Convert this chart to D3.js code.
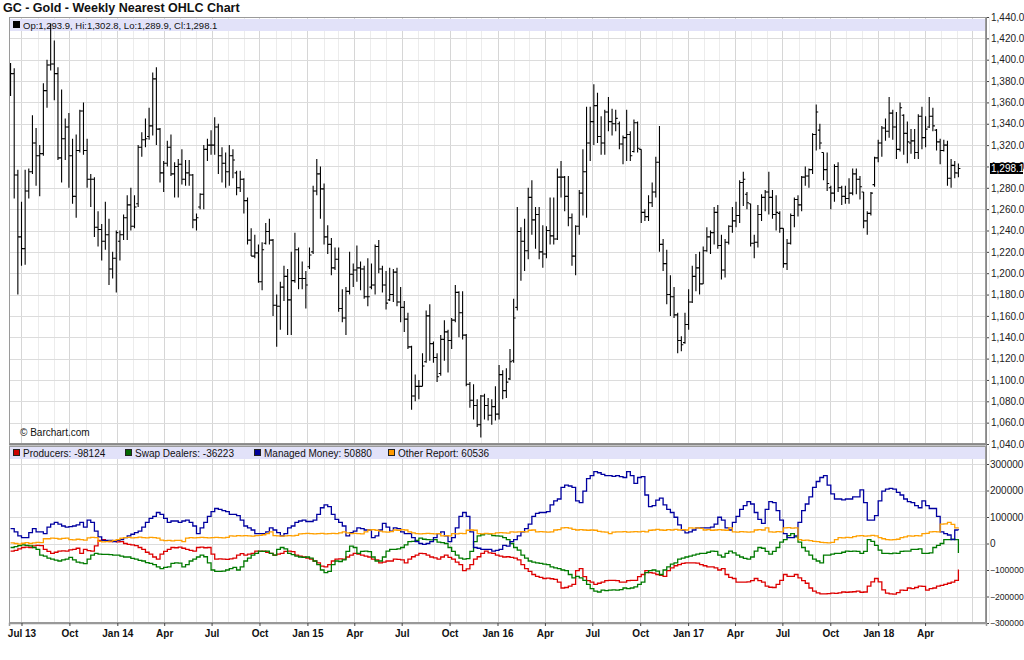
<!DOCTYPE html>
<html><head><meta charset="utf-8">
<script src="https://cdn.jsdelivr.net/npm/d3@7"></script>
<style>
body{margin:0;background:#fff;}
svg text{font-family:"Liberation Sans",Arial,sans-serif;}
</style>
</head><body>
<svg id="c" width="1024" height="660"></svg>
<script>
// ---------- DATA ----------
const chartTitle = "GC - Gold - Weekly Nearest OHLC Chart";
const firstWeek = Date.UTC(2013,5,10), lastWeekEnd = Date.UTC(2018,5,5);
const xTickLabels = ["Jul 13","Oct","Jan 14","Apr","Jul","Oct","Jan 15","Apr","Jul","Oct","Jan 16","Apr","Jul","Oct","Jan 17","Apr","Jul","Oct","Jan 18","Apr"];
const priceTicks = [1040,1060,1080,1100,1120,1140,1160,1180,1200,1220,1240,1260,1280,1300,1320,1340,1360,1380,1400,1420,1440];
const cotTicks = [-300000,-200000,-100000,0,100000,200000,300000];

const opens = [1383,1387,1292,1234,1223,1277,1295,1322,1310,1312,1371,1395,1396,1387,1308,1326,1337,1310,1272,1315,1352,1315,1288,1288,1243,1241,1230,1236,1204,1214,
1230,1236,1252,1264,1244,1265,1318,1325,1328,1338,1382,1335,1294,1303,1318,1293,1300,1302,1288,1294,1292,1250,1262,1274,1316,1320,1320,1337,1310,1303,
1295,1310,1294,1280,1288,1268,1231,1216,1219,1192,1228,1239,1231,1170,1169,1187,1197,1175,1193,1222,1195,1195,1206,1220,1277,1293,1279,1234,1227,1205,
1213,1167,1158,1183,1199,1203,1205,1204,1178,1187,1189,1225,1204,1189,1175,1180,1201,1173,1168,1157,1131,1085,1094,1094,1117,1160,1134,1121,1106,1138,
1145,1137,1156,1182,1163,1142,1096,1081,1076,1058,1085,1076,1067,1075,1068,1105,1090,1101,1118,1168,1239,1230,1221,1271,1250,1255,1220,1218,1240,1235,
1232,1290,1290,1272,1252,1216,1244,1275,1295,1322,1342,1357,1328,1322,1351,1342,1340,1340,1321,1327,1330,1314,1341,1316,1257,1253,1266,1276,1304,1227,
1209,1180,1178,1161,1137,1135,1152,1173,1197,1205,1190,1221,1234,1238,1257,1226,1203,1229,1244,1249,1254,1285,1274,1265,1228,1229,1255,1271,1276,1271,
1255,1256,1242,1209,1228,1254,1269,1264,1290,1291,1297,1330,1334,1313,1297,1280,1275,1300,1280,1272,1270,1275,1293,1288,1276,1249,1256,1283,1308,1322,
1336,1333,1350,1337,1316,1348,1331,1322,1324,1313,1347,1327,1337,1347,1334,1323,1315,1320,1289,1301,1293.9];
const highs = [1397,1392,1297,1267,1297,1298,1348,1336,1320,1378,1400,1434,1418,1393,1372,1345,1350,1326,1330,1353,1360,1326,1293,1290,1258,1246,1267,1251,1220,1240,
1240,1255,1273,1280,1273,1320,1332,1345,1355,1388,1393,1336,1305,1324,1330,1304,1307,1316,1306,1306,1293,1256,1275,1320,1326,1334,1346,1340,1318,1313,
1320,1316,1296,1296,1289,1271,1242,1236,1227,1229,1247,1251,1232,1180,1192,1207,1204,1220,1238,1224,1211,1202,1224,1282,1307,1300,1284,1245,1233,1224,
1224,1185,1187,1220,1209,1226,1211,1207,1214,1209,1227,1231,1207,1202,1205,1204,1205,1187,1174,1163,1132,1105,1100,1125,1165,1171,1136,1125,1142,1156,
1147,1158,1189,1183,1183,1143,1098,1096,1082,1086,1087,1083,1082,1094,1114,1109,1111,1129,1176,1262,1243,1251,1280,1287,1262,1262,1245,1244,1271,1271,
1298,1305,1291,1291,1256,1245,1278,1316,1356,1356,1377,1369,1347,1353,1365,1354,1353,1342,1329,1353,1333,1344,1342,1316,1260,1273,1285,1309,1338,1232,
1222,1198,1187,1163,1141,1163,1185,1207,1218,1220,1225,1243,1240,1262,1264,1236,1232,1245,1262,1267,1287,1295,1276,1265,1236,1264,1274,1278,1295,1278,
1273,1258,1242,1232,1256,1271,1273,1291,1300,1298,1331,1358,1340,1313,1313,1282,1302,1304,1282,1282,1289,1298,1298,1291,1276,1258,1276,1309,1325,1338,
1345,1365,1353,1351,1360,1349,1342,1335,1335,1349,1356,1347,1365,1355,1335,1326,1325,1324,1307,1305,1302.8];
const lows = [1366,1270,1180,1207,1208,1270,1293,1282,1272,1310,1355,1390,1362,1306,1285,1306,1280,1265,1252,1313,1311,1280,1262,1234,1225,1212,1222,1189,1195,1182,
1212,1231,1231,1240,1242,1262,1309,1318,1325,1329,1320,1285,1276,1300,1291,1271,1271,1283,1282,1282,1242,1240,1260,1260,1305,1311,1311,1293,1285,1280,
1282,1289,1273,1276,1256,1227,1216,1214,1191,1184,1227,1227,1160,1131,1147,1174,1142,1142,1191,1185,1185,1167,1204,1218,1273,1251,1227,1218,1198,1203,
1164,1154,1142,1180,1187,1192,1184,1176,1169,1185,1180,1200,1182,1166,1174,1173,1169,1154,1145,1129,1072,1080,1082,1094,1116,1118,1116,1098,1104,1118,
1107,1129,1154,1140,1138,1094,1074,1063,1056,1046,1063,1062,1058,1062,1063,1082,1083,1100,1116,1165,1193,1202,1213,1236,1223,1213,1205,1214,1227,1227,
1231,1271,1258,1244,1207,1198,1236,1254,1252,1305,1320,1322,1311,1311,1333,1329,1333,1316,1302,1305,1305,1313,1313,1247,1249,1249,1262,1271,1220,1202,
1171,1160,1158,1125,1127,1134,1147,1172,1183,1180,1190,1220,1218,1227,1223,1194,1196,1227,1238,1243,1247,1263,1260,1225,1214,1224,1249,1258,1255,1251,
1240,1238,1205,1203,1227,1243,1253,1258,1282,1280,1293,1315,1316,1287,1277,1260,1267,1276,1264,1265,1265,1273,1274,1269,1242,1236,1254,1281,1304,1309,
1324,1327,1325,1307,1314,1311,1303,1312,1307,1307,1316,1318,1336,1333,1315,1302,1314,1282,1280,1289,1289.9];
const closes = [1387,1292,1234,1223,1277,1295,1322,1310,1312,1371,1395,1396,1387,1308,1326,1337,1310,1272,1315,1352,1315,1288,1288,1243,1241,1230,1236,1204,1214,1238,
1236,1252,1264,1244,1262,1318,1325,1326,1338,1382,1335,1294,1303,1318,1293,1300,1302,1288,1294,1292,1250,1252,1274,1316,1320,1320,1337,1310,1303,1295,
1310,1306,1280,1288,1268,1231,1216,1219,1192,1222,1239,1231,1170,1169,1187,1197,1175,1193,1222,1195,1195,1189,1217,1277,1293,1279,1234,1227,1205,1213,
1167,1158,1183,1199,1203,1205,1204,1178,1178,1189,1225,1204,1189,1172,1180,1201,1173,1168,1157,1131,1085,1094,1094,1113,1160,1134,1121,1103,1138,1145,
1137,1156,1182,1163,1142,1096,1081,1076,1058,1085,1076,1067,1075,1068,1105,1090,1098,1117,1158,1239,1230,1221,1271,1250,1255,1220,1218,1240,1235,1232,
1290,1290,1272,1252,1216,1244,1275,1295,1322,1342,1357,1328,1322,1351,1342,1340,1345,1321,1327,1330,1310,1341,1317,1257,1253,1266,1276,1304,1227,1209,
1180,1178,1161,1137,1133,1152,1173,1197,1205,1190,1221,1234,1238,1257,1226,1203,1229,1244,1249,1254,1285,1288,1266,1228,1229,1255,1271,1276,1271,1255,
1257,1242,1209,1228,1254,1269,1264,1290,1291,1297,1330,1351,1322,1297,1284,1275,1300,1280,1272,1270,1275,1293,1288,1281,1249,1256,1275,1308,1322,1336,
1333,1350,1337,1316,1355,1331,1323,1324,1313,1347,1327,1335,1347,1338,1323,1315,1320,1289,1301,1294,1298.1];

const producers = [-29000,-26000,-20000,-15000,-14000,-15000,-9000,-7000,-8000,-22000,
-30000,-37000,-33000,-29000,-28000,-29000,-24000,-22000,-18000,-37000,
-22000,-27000,-29000,-9000,12000,15000,9000,7000,8000,6000,
7000,0,-3000,-5000,-8000,-15000,-22000,-33000,-40000,-51000,
-59000,-40000,-30000,-22000,-15000,-16000,-14000,-18000,-22000,-26000,
-29000,-15000,-14000,-16000,-15000,-40000,-59000,-58000,-59000,-60000,
-58000,-55000,-44000,-38000,-44000,-40000,-37000,-29000,-30000,-29000,
-33000,-37000,-44000,-40000,-37000,-30000,-29000,-31000,-44000,-48000,
-51000,-55000,-59000,-66000,-73000,-85000,-88000,-80000,-66000,-59000,
-58000,-59000,-51000,-44000,-37000,-40000,-44000,-48000,-51000,-59000,
-62000,-73000,-70000,-66000,-66000,-59000,-60000,-62000,-73000,-59000,
-50000,-44000,-37000,-38000,-44000,-51000,-54000,-59000,-51000,-44000,
-52000,-59000,-70000,-80000,-102000,-96000,-80000,-59000,-50000,-37000,
-29000,-35000,-37000,-44000,-48000,-51000,-50000,-52000,-55000,-62000,
-80000,-95000,-105000,-117000,-124000,-128000,-132000,-131000,-133000,-135000,
-146000,-168000,-166000,-161000,-154000,-102000,-95000,-125000,-140000,-146000,
-154000,-150000,-146000,-140000,-139000,-139000,-140000,-146000,-146000,-140000,
-139000,-139000,-125000,-117000,-102000,-110000,-112000,-117000,-120000,-124000,
-102000,-92000,-84000,-80000,-75000,-73000,-73000,-73000,-74000,-80000,
-84000,-88000,-88000,-92000,-100000,-95000,-117000,-128000,-132000,-146000,
-146000,-146000,-145000,-140000,-132000,-140000,-146000,-161000,-165000,-166000,
-154000,-139000,-117000,-124000,-124000,-117000,-130000,-140000,-150000,-168000,
-180000,-186000,-190000,-190000,-189000,-187000,-188000,-186000,-183000,-184000,
-183000,-182000,-180000,-184000,-183000,-161000,-145000,-132000,-145000,-175000,
-187000,-190000,-191000,-185000,-176000,-177000,-168000,-170000,-166000,-161000,
-162000,-176000,-170000,-168000,-161000,-158000,-154000,-150000,-146000,-139000,
-98124];
const swapDealers = [-15000,-12000,-8000,-5000,-7000,-9000,-15000,-22000,-44000,-48000,
-55000,-59000,-63000,-66000,-62000,-59000,-52000,-62000,-70000,-73000,
-76000,-59000,-44000,-37000,-40000,-41000,-41000,-42000,-44000,-44000,
-48000,-51000,-51000,-56000,-59000,-64000,-66000,-72000,-75000,-80000,
-88000,-95000,-90000,-88000,-75000,-73000,-74000,-88000,-80000,-66000,
-59000,-51000,-44000,-50000,-73000,-100000,-105000,-105000,-104000,-100000,
-95000,-90000,-100000,-88000,-66000,-55000,-44000,-37000,-29000,-30000,
-29000,-37000,-44000,-22000,-15000,-20000,-37000,-42000,-48000,-51000,
-52000,-51000,-55000,-66000,-80000,-100000,-110000,-105000,-80000,-66000,
-68000,-62000,-30000,-10000,-15000,-37000,-30000,-29000,-31000,-51000,
-66000,-66000,-51000,-29000,-22000,-22000,-20000,-15000,-5000,7000,
8000,12000,20000,16000,15000,14000,15000,5000,3000,0,
-15000,-30000,-44000,-55000,-59000,-57000,-30000,7000,29000,33000,
37000,36000,30000,29000,28000,22000,15000,0,-15000,-25000,
-44000,-55000,-66000,-70000,-73000,-75000,-78000,-80000,-88000,-92000,
-95000,-100000,-102000,-117000,-130000,-124000,-130000,-139000,-154000,-170000,
-180000,-183000,-176000,-178000,-176000,-175000,-176000,-174000,-168000,-170000,
-168000,-164000,-154000,-146000,-110000,-102000,-100000,-104000,-117000,-100000,
-88000,-78000,-73000,-59000,-55000,-51000,-48000,-44000,-40000,-37000,
-37000,-33000,-29000,-30000,-44000,-51000,-37000,-29000,-35000,-44000,
-51000,-56000,-59000,-51000,-29000,-15000,-18000,-30000,-40000,-30000,
-15000,5000,15000,30000,37000,25000,5000,-15000,-29000,-44000,
-59000,-66000,-73000,-44000,-44000,-40000,-37000,-37000,-33000,-29000,
-30000,-29000,-30000,-37000,-30000,15000,8000,-7000,-25000,-37000,
-37000,-38000,-36000,-37000,-30000,-29000,-29000,-22000,-22000,-20000,
-37000,-37000,-35000,-15000,-7000,0,15000,15000,16000,15000,
-36223];
const managedMoney = [56000,44000,29000,22000,22000,41000,56000,44000,44000,37000,
62000,73000,80000,73000,66000,62000,64000,66000,70000,80000,
62000,88000,80000,47000,25000,12000,12000,12000,7000,12000,
15000,22000,29000,35000,41000,47000,62000,80000,95000,102000,
117000,110000,95000,80000,85000,85000,80000,85000,88000,80000,
66000,37000,59000,80000,102000,120000,132000,129000,124000,120000,
110000,110000,105000,88000,66000,59000,51000,37000,37000,37000,
44000,59000,51000,41000,29000,37000,59000,66000,80000,85000,
88000,83000,83000,88000,110000,135000,146000,139000,110000,91000,
80000,66000,29000,41000,47000,59000,56000,51000,51000,22000,
29000,51000,76000,62000,47000,59000,56000,44000,37000,37000,
22000,7000,0,-3000,0,7000,22000,37000,44000,29000,
7000,22000,59000,102000,117000,102000,44000,-15000,-18000,-22000,
-22000,-22000,-29000,-26000,-22000,-7000,-10000,7000,15000,29000,
44000,56000,73000,102000,114000,117000,117000,120000,146000,161000,
168000,212000,220000,217000,212000,161000,154000,198000,245000,256000,
271000,267000,261000,256000,256000,253000,256000,252000,249000,271000,
256000,227000,249000,252000,183000,139000,143000,164000,171000,146000,
129000,117000,99000,70000,51000,40000,44000,51000,59000,59000,
59000,59000,62000,73000,99000,88000,59000,51000,80000,102000,
129000,143000,158000,149000,117000,91000,76000,129000,158000,154000,
124000,88000,37000,22000,22000,29000,80000,124000,149000,176000,
212000,234000,249000,256000,220000,187000,168000,168000,165000,168000,
168000,176000,176000,202000,154000,88000,88000,105000,161000,198000,
205000,208000,205000,193000,183000,168000,158000,154000,143000,135000,
161000,143000,132000,132000,102000,44000,37000,32000,15000,51000,
50880];
const otherReport = [2000,0,-2000,1000,3000,0,2000,4000,3000,18000,
18000,20000,19000,17000,19000,20000,15000,14000,16000,15000,
13000,21000,23000,22000,8000,6000,7000,9000,12000,15000,
20000,22000,23000,21000,22000,24000,22000,21000,23000,22000,
20000,13000,11000,12000,10000,12000,12000,7000,20000,22000,
21000,22000,23000,22000,21000,22000,23000,22000,21000,23000,
29000,28000,30000,29000,30000,29000,28000,30000,31000,33000,
37000,44000,30000,29000,28000,29000,30000,29000,31000,36000,
37000,38000,37000,36000,37000,38000,36000,37000,38000,37000,
40000,44000,40000,37000,38000,37000,36000,44000,51000,52000,
50000,47000,44000,43000,45000,51000,50000,52000,51000,44000,
40000,37000,36000,37000,38000,37000,36000,37000,29000,30000,
29000,37000,36000,38000,37000,50000,51000,50000,37000,36000,
38000,37000,36000,40000,41000,40000,39000,44000,43000,44000,
45000,44000,50000,51000,44000,45000,44000,43000,44000,51000,
52000,59000,60000,58000,53000,51000,52000,51000,50000,51000,
50000,46000,44000,43000,37000,43000,44000,44000,45000,43000,
44000,45000,44000,46000,44000,50000,51000,53000,51000,50000,
52000,51000,53000,51000,52000,51000,59000,58000,59000,57000,
51000,52000,50000,51000,52000,51000,50000,59000,44000,43000,
45000,44000,43000,44000,51000,52000,51000,59000,44000,43000,
45000,44000,59000,60000,58000,59000,15000,12000,13000,11000,
8000,7000,4000,3000,2000,4000,15000,22000,21000,23000,
22000,26000,29000,30000,28000,29000,31000,29000,22000,18000,
15000,14000,15000,16000,22000,25000,29000,28000,30000,29000,
37000,38000,44000,45000,44000,73000,74000,80000,72000,59000,
60536];

const cotSeries = [
  {name:"Producers", values:producers, color:"#dd0000", box:"#cc0000"},
  {name:"Swap Dealers", values:swapDealers, color:"#007a00", box:"#006600"},
  {name:"Managed Money", values:managedMoney, color:"#0000a0", box:"#000099"},
  {name:"Other Report", values:otherReport, color:"#ffa000", box:"#ff9900"}
];

// ---------- LAYOUT ----------
const L = 9, R = 986;
const topY0 = 17, topY1 = 444;
const botY0 = 446, botY1 = 623;

const svg = d3.select("#c");
const weeks = d3.utcMonday.range(firstWeek, lastWeekEnd);

const x = d3.scaleUtc().domain([Date.UTC(2013,5,7), Date.UTC(2018,6,27)]).range([L, R]);
const yP = d3.scaleLinear().domain([1040,1440]).range([topY1, topY0]);
const yC = d3.scaleLinear().domain([-300000,300000]).range([botY1, 464]);

const defs = svg.append("defs");
defs.append("clipPath").attr("id","clipTop").append("rect").attr("x",L).attr("y",topY0-2).attr("width",R-L).attr("height",topY1-topY0+2);
defs.append("clipPath").attr("id","clipBot").append("rect").attr("x",L).attr("y",botY0).attr("width",R-L).attr("height",botY1-botY0);

// Title
svg.append("text").attr("x",3).attr("y",12).attr("font-size",12.5).attr("font-weight","bold").attr("fill","#111").text(chartTitle);

const months = d3.utcMonth.range(Date.UTC(2013,6,1), Date.UTC(2018,7,2));
const quarters = d3.utcMonth.every(3).range(Date.UTC(2013,6,1), Date.UTC(2018,4,1));

function drawVGrid(y0,y1){
  svg.append("g").selectAll("line").data(months).join("line")
    .attr("x1",d=>Math.round(x(d))+0.5).attr("x2",d=>Math.round(x(d))+0.5)
    .attr("y1",y0).attr("y2",y1)
    .attr("stroke",d=>d.getUTCMonth()%3===0?"#d6d6d6":"#ececec").attr("stroke-width",1);
}

// ---- Top panel ----
drawVGrid(topY0, topY1);
svg.append("g").selectAll("line").data(priceTicks).join("line")
  .attr("x1",L).attr("x2",R).attr("y1",d=>Math.round(yP(d))+0.5).attr("y2",d=>Math.round(yP(d))+0.5)
  .attr("stroke","#dcdcdc");
svg.append("rect").attr("x",L+1).attr("y",19).attr("width",R-L-2).attr("height",12).attr("fill","#e2e2f9");

const last = opens.length-1;
const fmt1 = d3.format(",.1f");
svg.append("rect").attr("x",13).attr("y",21).attr("width",7).attr("height",7).attr("fill","#000");
svg.append("text").attr("x",23).attr("y",28.5).attr("font-size",9.5).attr("fill","#111")
  .text(`Op:${fmt1(opens[last])}, Hi:${fmt1(highs[last])}, Lo:${fmt1(lows[last])}, Cl:${fmt1(closes[last])}`);

const ohlc = weeks.map((d,i)=>({d,o:opens[i],h:highs[i],l:lows[i],c:closes[i]}));
svg.append("g").attr("clip-path","url(#clipTop)").selectAll("path").data(ohlc).join("path")
  .attr("d",b=>{const xx=x(b.d);return `M${xx},${yP(b.h)}V${yP(b.l)}M${xx-2},${yP(b.o)}H${xx}M${xx},${yP(b.c)}H${xx+2}`;})
  .attr("fill","none").attr("stroke","#000").attr("stroke-width",1.1);

svg.append("text").attr("x",20).attr("y",436).attr("font-size",10).attr("fill","#111").text("\u00a9 Barchart.com");

// frame top panel
svg.append("rect").attr("x",L+0.5).attr("y",topY0+0.5).attr("width",R-L-1).attr("height",topY1-topY0-1).attr("fill","none").attr("stroke","#9a9a9a");
svg.append("line").attr("x1",L).attr("x2",R).attr("y1",topY1+0.5).attr("y2",topY1+0.5).attr("stroke","#888").attr("stroke-width",2);

// right price axis
const axP = svg.append("g").attr("transform",`translate(${R},0)`)
  .call(d3.axisRight(yP).tickValues(priceTicks).tickFormat(fmt1).tickSize(3).tickPadding(2));
axP.select(".domain").attr("stroke","#888");
axP.selectAll(".tick line").attr("stroke","#444");
axP.selectAll(".tick text").attr("font-size",10).attr("fill","#222").attr("font-family","Liberation Sans, Arial, sans-serif");

// current price marker
const cy = yP(closes[last]);
svg.append("rect").attr("x",990).attr("y",cy-5.5).attr("width",33).attr("height",11).attr("fill","#000");
svg.append("text").attr("x",991).attr("y",cy).attr("dy","0.35em").attr("font-size",10).attr("fill","#fff").text(fmt1(closes[last]));

// ---- Bottom panel ----
drawVGrid(botY0, botY1);
svg.append("g").selectAll("line").data(cotTicks).join("line")
  .attr("x1",L).attr("x2",R).attr("y1",d=>Math.round(yC(d))+0.5).attr("y2",d=>Math.round(yC(d))+0.5)
  .attr("stroke","#dcdcdc");
svg.append("rect").attr("x",L+1).attr("y",447).attr("width",R-L-2).attr("height",12).attr("fill","#e2e2f9");

const legX = [13,125,254,388];
cotSeries.forEach((s,k)=>{
  svg.append("rect").attr("x",legX[k]+0.5).attr("y",449.5).attr("width",6).attr("height",6).attr("fill",s.box).attr("stroke","#222");
  svg.append("text").attr("x",legX[k]+10).attr("y",456.5).attr("font-size",10).attr("fill","#111")
    .text(`${s.name}: ${s.values[s.values.length-1]}`);
});

const gLines = svg.append("g").attr("clip-path","url(#clipBot)");
const line = d3.line().curve(d3.curveStepAfter).x((v,i)=>x(weeks[i])).y(v=>yC(v));
cotSeries.forEach(s=>{
  gLines.append("path").datum(s.values).attr("d",line).attr("fill","none").attr("stroke",s.color).attr("stroke-width",1.3);
});

svg.append("rect").attr("x",L+0.5).attr("y",botY0+0.5).attr("width",R-L-1).attr("height",botY1-botY0-1).attr("fill","none").attr("stroke","#9a9a9a");

const axC = svg.append("g").attr("transform",`translate(${R},0)`)
  .call(d3.axisRight(yC).tickValues(cotTicks).tickFormat(d3.format("d")).tickSize(3).tickPadding(1));
axC.select(".domain").attr("stroke","#888");
axC.selectAll(".tick line").attr("stroke","#444");
axC.selectAll(".tick text").attr("font-size",d=>d<0?8.6:10).attr("fill","#222").attr("font-family","Liberation Sans, Arial, sans-serif");
svg.append("line").attr("x1",R+0.5).attr("x2",R+0.5).attr("y1",topY0).attr("y2",botY1).attr("stroke","#888");

// bottom time axis
const axX = svg.append("g").attr("transform",`translate(0,${botY1})`)
  .call(d3.axisBottom(x).tickValues(quarters).tickFormat((d,i)=>xTickLabels[i]).tickSize(3).tickPadding(4));
axX.select(".domain").attr("stroke","#999").attr("stroke-width",1.5);
axX.selectAll(".tick line").attr("stroke","#444");
axX.selectAll(".tick text").attr("font-size",10).attr("font-weight","bold").attr("fill","#111").attr("font-family","Liberation Sans, Arial, sans-serif");
</script>
</body></html>
